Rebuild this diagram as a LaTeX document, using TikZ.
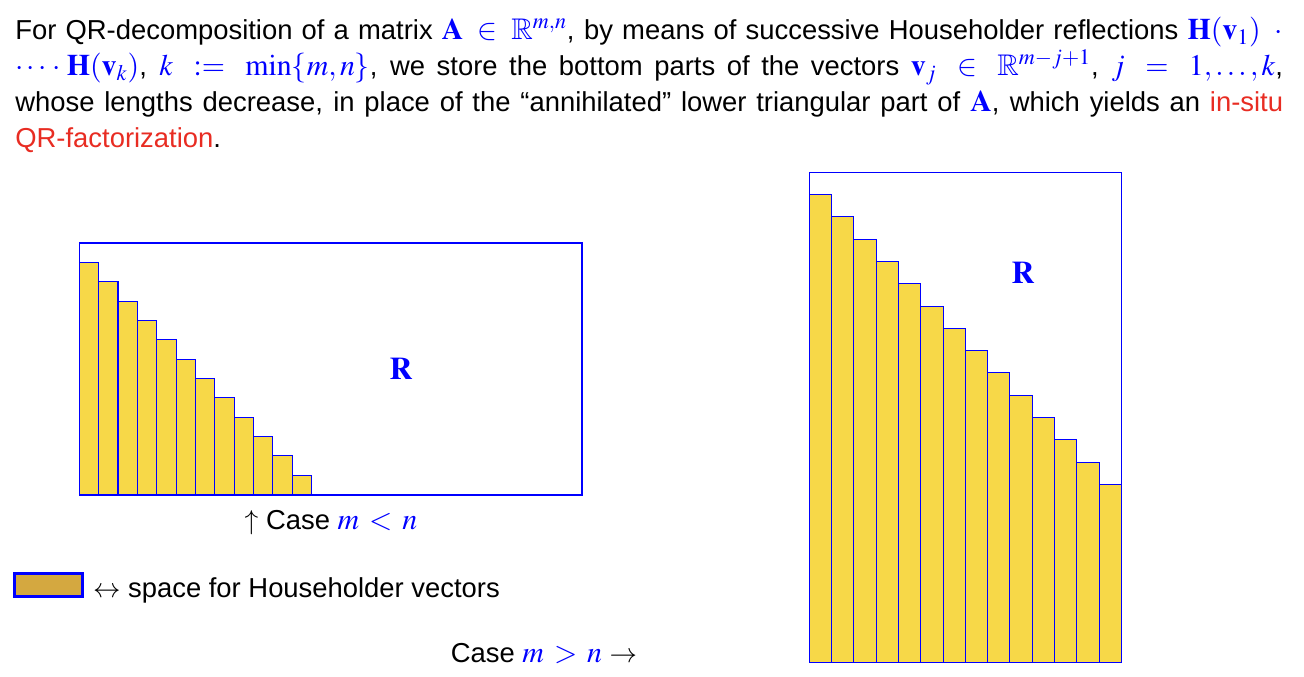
\documentclass[tikz,border=0pt]{standalone}
\usepackage{amssymb}
\usepackage{mathptmx}
\usepackage[no-math]{fontspec}
\setmainfont{Liberation Sans}
\definecolor{hhyellow}{RGB}{247,216,72}
\definecolor{hhgold}{RGB}{212,168,64}
\definecolor{situred}{RGB}{232,44,34}
\newcommand{\bl}[1]{{\fontsize{17}{20.4}\selectfont\thickmuskip=6mu plus 6mu\textcolor{blue}{$#1$}}}
\tikzset{
  hhbar/.style={draw=blue, fill=hhyellow, line width=0.6pt},
  matbox/.style={draw=blue, line width=0.6pt},
  rlabel/.style={text=blue, font=\fontsize{18}{20}\selectfont},
  txt/.style={font=\fontsize{15.6}{20.4}\selectfont, inner sep=0pt}
}
\begin{document}
\begin{tikzpicture}[x=0.02cm, y=-0.02cm]
\useasboundingbox (0,0) rectangle (1304,676);
\node[txt, anchor=north west, text width=25.36cm, align=justify] (intro) at (15,17)
 {For QR-decomposition of a matrix \bl{\mathbf{A}\in\mathbb{R}^{m,n}}, by means of successive Householder reflections \bl{\mathbf{H}(\mathbf{v}_1)\;\cdot}\linebreak
 \bl{\cdots\cdot\mathbf{H}(\mathbf{v}_k)}, \bl{k:=\min\{m,n\}}, we store the bottom parts of the vectors \bl{\mathbf{v}_j\in\mathbb{R}^{m-j+1}}, \bl{j=1,\dots,k},\linebreak
 whose lengths decrease, in place of the ``annihilated'' lower triangular part of \bl{\mathbf{A}}, which yields an \textcolor{situred}{in-situ}\linebreak
 \textcolor{situred}{QR-factorization}.};
\foreach \j in {1,...,12}
  \filldraw[hhbar] ({79.3+(\j-1)*19.35},{243+\j*19.35}) rectangle ({79.3+\j*19.35},495);
\draw[matbox] (79.3,243) rectangle (582,495);
\node[rlabel] (rwide) at (401,369) {$\mathbf{R}$};
\node[txt] (casewide) at (331,523) {$\uparrow$ Case \bl{m<n}};
\foreach \j in {1,...,14}
  \filldraw[hhbar] ({809.3+(\j-1)*22.29},{172.3+\j*22.29}) rectangle ({809.3+\j*22.29},662.3);
\draw[matbox] (809.3,172.3) rectangle (1121.3,662.3);
\node[rlabel] (rtall) at (1023,273) {$\mathbf{R}$};
\node[txt] (casetall) at (544,654) {Case \bl{m>n} $\rightarrow$};
\node[draw=blue, fill=hhgold, line width=1.7pt, minimum width=1.36cm, minimum height=0.46cm, inner sep=0pt] (key) at (48.5,585) {};
\node[txt, anchor=west] (keytext) at ([xshift=5pt, yshift=-3pt]key.east) {$\leftrightarrow$ space for Householder vectors};
\end{tikzpicture}
\end{document}
